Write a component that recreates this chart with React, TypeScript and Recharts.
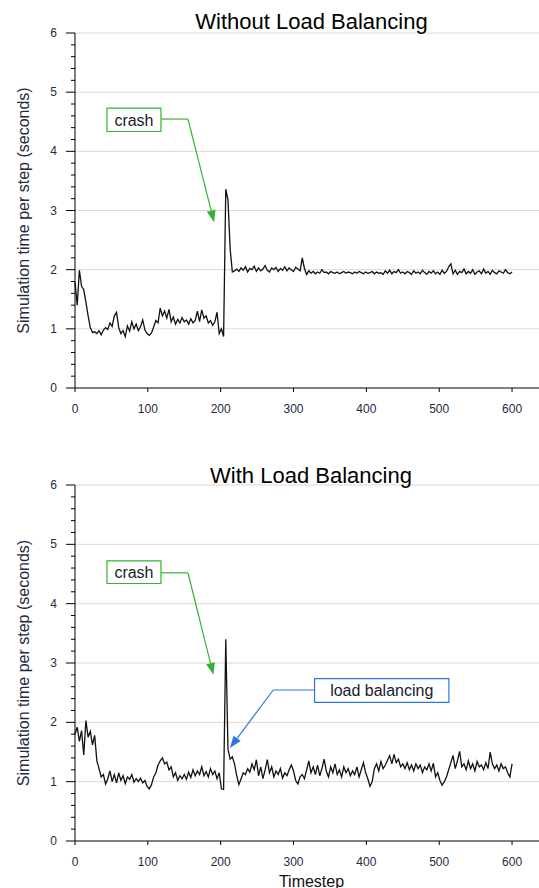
import React from "react";
import {
  Label,
  Line,
  LineChart,
  ReferenceArea,
  ReferenceLine,
  XAxis,
  YAxis,
} from "recharts";

// one sample every 3 timesteps, t = 0 .. 600
const STEP = 3;

const withoutLB = [
  1.79, 1.4, 1.99, 1.72, 1.66, 1.45, 1.22, 1.02, 0.94, 0.95,
  0.92, 0.97, 0.9, 0.98, 1.02, 0.99, 1.1, 1.04, 1.22, 1.28,
  1.02, 0.92, 0.97, 0.87, 1.05, 0.96, 1.12, 1.0, 1.08, 0.97,
  1.04, 1.15, 0.98, 0.92, 0.89, 0.93, 1.03, 1.14, 1.1, 1.35,
  1.22, 1.3, 1.18, 1.33, 1.12, 1.2, 1.08, 1.16, 1.1, 1.19,
  1.12, 1.15, 1.08, 1.17, 1.1, 1.14, 1.3, 1.12, 1.32, 1.18,
  1.22, 1.1, 1.14, 1.06, 1.12, 1.28, 0.92, 1.0, 0.87, 3.36,
  3.18, 2.35, 1.96, 1.98, 2.01, 1.97, 2.03, 1.99, 2.05, 1.96,
  2.02, 2.0, 2.06, 1.97, 2.03, 1.98, 2.01, 2.07, 1.99, 1.96,
  2.03, 2.0, 2.04, 1.97, 2.02, 1.99, 2.05, 1.98, 2.03, 2.0,
  1.97, 2.04, 2.01, 1.98, 2.2, 2.02, 1.92, 1.98, 1.94, 1.97,
  1.93, 1.96, 1.94, 2.0, 1.95, 1.96, 1.93, 1.97, 1.95, 1.94,
  1.96, 1.93, 1.95, 1.97, 1.94, 1.96, 1.95, 1.93, 1.96, 1.94,
  1.97, 1.95, 1.93, 1.96, 1.94, 1.95, 1.97, 1.93, 1.96, 1.94,
  1.95, 1.92, 1.98, 1.94, 1.99, 1.93, 1.97, 1.95, 2.0, 1.94,
  1.96, 1.93, 1.97, 1.95, 1.92, 1.98, 1.94, 1.96, 1.93, 1.99,
  1.95, 1.92, 1.97, 1.94, 1.98, 1.93, 1.96, 1.92, 1.99, 1.94,
  1.97, 2.05, 2.1, 1.93, 1.99, 1.92, 1.97, 1.95, 2.01, 1.93,
  1.97, 1.94, 2.0, 1.92, 1.96, 1.98, 1.93, 2.01, 1.94, 1.97,
  1.92, 1.99, 1.95, 1.93, 1.98, 1.96, 1.94, 2.0, 1.95, 1.93,
  1.96,
];

const withLB = [
  1.8, 1.92, 1.68, 1.86, 1.45, 2.03, 1.75, 1.85, 1.62, 1.78,
  1.35, 1.22, 1.08, 1.12, 0.96, 1.05, 1.18, 1.0, 1.12, 0.98,
  1.15, 1.02, 1.1, 0.97, 1.08, 1.04, 1.12, 0.99, 1.05, 1.0,
  1.06, 0.98, 1.02, 0.92, 0.88, 0.95, 1.08, 1.15, 1.28, 1.35,
  1.4, 1.3, 1.33, 1.2, 1.25, 1.08, 1.15, 1.02, 1.1, 1.05,
  1.12, 1.04, 1.16, 1.07, 1.2, 1.1, 1.18, 1.12, 1.25, 1.1,
  1.17, 1.08, 1.22, 1.12, 1.18, 1.05, 1.15, 0.88, 0.87, 3.4,
  1.55, 1.38, 1.42, 1.3, 1.1, 0.95, 1.05, 1.15, 1.12, 1.22,
  1.16, 1.3, 1.2, 1.37, 1.1, 1.25, 1.05, 1.2, 1.37, 1.15,
  1.25, 1.08, 1.18, 1.12, 1.22, 1.06, 1.15, 1.1, 1.2, 1.28,
  1.18, 1.02, 0.96, 1.08, 1.12, 1.05, 1.2, 1.35, 1.15, 1.25,
  1.12, 1.28, 1.1, 1.22, 1.38, 1.18, 1.08, 1.25, 1.15, 1.3,
  1.12, 1.2, 1.08, 1.25, 1.15, 1.22, 1.1, 1.18, 1.12, 1.25,
  1.08, 1.2, 1.32, 1.15, 1.05, 0.92, 1.0, 1.22, 1.3, 1.18,
  1.34, 1.22, 1.28, 1.36, 1.44, 1.3, 1.46, 1.32, 1.38, 1.25,
  1.3, 1.22, 1.32, 1.2, 1.28, 1.18, 1.3, 1.22, 1.28, 1.15,
  1.25, 1.2, 1.3, 1.18, 1.31, 1.08, 1.15, 1.02, 0.94, 1.0,
  1.08, 1.2, 1.32, 1.44, 1.22, 1.35, 1.51, 1.25, 1.3, 1.2,
  1.35, 1.22, 1.3, 1.18, 1.34, 1.25, 1.28, 1.2, 1.32, 1.22,
  1.5, 1.3, 1.22, 1.28, 1.18, 1.3, 1.22, 1.25, 1.15, 1.08,
  1.3,
];

const xTicks = [0, 100, 200, 300, 400, 500, 600];
const yTicks = [
  0, 0.2, 0.4, 0.6, 0.8, 1, 1.2, 1.4, 1.6, 1.8, 2, 2.2, 2.4, 2.6, 2.8, 3,
  3.2, 3.4, 3.6, 3.8, 4, 4.2, 4.4, 4.6, 4.8, 5, 5.2, 5.4, 5.6, 5.8, 6,
];
const gridValues = [1, 2, 3, 4, 5, 6];

const GREEN = "#2fb52f";
const BLUE = "#2a78d8";
const TEXT = "#1f2a44";
const FONT = "'Liberation Sans', Arial, sans-serif";

const toRows = (vals: number[]) => vals.map((v, i) => ({ t: i * STEP, v }));

const YTick = (props: any) => {
  const { x, y, payload } = props;
  const major = Number.isInteger(payload.value);
  return (
    <g>
      <line x1={x - (major ? 9 : 4)} x2={x} y1={y} y2={y} stroke="#000" />
      {major && (
        <text x={x - 18} y={y} dy={4} textAnchor="end" fontSize={12} fill={TEXT}>
          {payload.value}
        </text>
      )}
    </g>
  );
};

const arrowShape = (color: string) => (props: any) => {
  const { x1, y1, x2, y2 } = props;
  const dx = x2 - x1;
  const dy = y2 - y1;
  const len = Math.hypot(dx, dy) || 1;
  const ux = dx / len;
  const uy = dy / len;
  const head = 12;
  const half = 4.5;
  const bx = x2 - ux * head;
  const by = y2 - uy * head;
  const pts = `${x2},${y2} ${bx - uy * half},${by + ux * half} ${bx + uy * half},${by - ux * half}`;
  return (
    <g>
      <line x1={x1} y1={y1} x2={bx} y2={by} stroke={color} strokeWidth={1.2} />
      <polygon points={pts} fill={color} />
    </g>
  );
};

type Note = {
  text: string;
  color: string;
  box: [number, number, number, number]; // x1, x2, y1, y2 in data units
  corner: { x: number; y: number }[];
  arrow: { x: number; y: number }[];
};

const Panel = ({
  values,
  notes,
  top,
  marginTop,
  plotHeight,
  showTimestep,
}: {
  values: number[];
  notes: Note[];
  top: number;
  marginTop: number;
  plotHeight: number;
  showTimestep?: boolean;
}) => {
  const xAxisHeight = 444 - marginTop - plotHeight;
  return (
    <div style={{ position: "absolute", left: 0, top }}>
      <LineChart
        width={539}
        height={444}
        data={toRows(values)}
        margin={{ top: marginTop, right: 0, bottom: 0, left: 0 }}
      >
        <XAxis
          dataKey="t"
          type="number"
          domain={[0, 637]}
          ticks={xTicks}
          interval={0}
          height={xAxisHeight}
          tickSize={4}
          tickMargin={12}
          stroke="#000"
          tick={{ fontSize: 12, fill: TEXT }}
        >
          {showTimestep && (
            <Label
              content={(p: any) => (
                <text
                  x={311.5}
                  y={(p.viewBox?.y ?? 397) + 45.5}
                  textAnchor="middle"
                  fontSize={16}
                  fill="#111"
                >
                  Timestep
                </text>
              )}
            />
          )}
        </XAxis>
        <YAxis
          domain={[0, 6]}
          ticks={yTicks}
          interval={0}
          width={75}
          tickSize={0}
          tickMargin={0}
          stroke="#000"
          tick={<YTick />}
        >
          <Label
            content={(p: any) => {
              const vb = p.viewBox || { y: marginTop, height: plotHeight };
              const cy = vb.y + vb.height / 2;
              return (
                <text
                  transform={`translate(29 ${cy}) rotate(-90)`}
                  textAnchor="middle"
                  fontSize={16}
                  fill={TEXT}
                >
                  Simulation time per step (seconds)
                </text>
              );
            }}
          />
        </YAxis>
        {gridValues.map((g) => (
          <ReferenceLine key={g} y={g} stroke="#edd3c8" strokeWidth={1} />
        ))}
        <Line
          dataKey="v"
          type="linear"
          stroke="#111"
          strokeWidth={1.3}
          dot={false}
          isAnimationActive={false}
        />
        {notes.map((n) => (
          <ReferenceArea
            key={n.text + "box"}
            x1={n.box[0]}
            x2={n.box[1]}
            y1={n.box[2]}
            y2={n.box[3]}
            fill="#fff"
            fillOpacity={1}
            stroke={n.color}
            strokeWidth={1.2}
            label={{ value: n.text, position: "center", fontSize: 16, fill: "#1a1a2e" }}
          />
        ))}
        {notes.map((n) => (
          <ReferenceLine
            key={n.text + "corner"}
            segment={n.corner}
            stroke={n.color}
            strokeWidth={1.2}
          />
        ))}
        {notes.map((n) => (
          <ReferenceLine
            key={n.text + "arrow"}
            segment={n.arrow}
            shape={arrowShape(n.color)}
          />
        ))}
      </LineChart>
    </div>
  );
};

const topNotes: Note[] = [
  {
    text: "crash",
    color: GREEN,
    box: [43.9, 118, 4.335, 4.73],
    corner: [{ x: 118, y: 4.546 }, { x: 155.1, y: 4.546 }],
    arrow: [{ x: 155.1, y: 4.546 }, { x: 191, y: 2.8 }],
  },
];

const bottomNotes: Note[] = [
  {
    text: "crash",
    color: GREEN,
    box: [43.9, 118, 4.34, 4.72],
    corner: [{ x: 118, y: 4.52 }, { x: 155.1, y: 4.52 }],
    arrow: [{ x: 155.1, y: 4.52 }, { x: 190, y: 2.8 }],
  },
  {
    text: "load balancing",
    color: BLUE,
    box: [328.9, 513.3, 2.338, 2.735],
    corner: [{ x: 328.9, y: 2.545 }, { x: 272.1, y: 2.545 }],
    arrow: [{ x: 272.1, y: 2.545 }, { x: 212.7, y: 1.567 }],
  },
];

export default function App() {
  return (
    <div
      style={{
        position: "fixed",
        left: 0,
        top: 0,
        width: 539,
        height: 888,
        background: "#fff",
        fontFamily: FONT,
        overflow: "hidden",
      }}
    >
      <Panel values={withoutLB} notes={topNotes} top={0} marginTop={33} plotHeight={355} />
      <Panel
        values={withLB}
        notes={bottomNotes}
        top={444}
        marginTop={41}
        plotHeight={356}
        showTimestep
      />
      <svg
        width={539}
        height={888}
        style={{ position: "absolute", left: 0, top: 0, pointerEvents: "none" }}
      >
        <text x={311.5} y={29} textAnchor="middle" fontSize={22} fill="#000">
          Without Load Balancing
        </text>
        <text x={311} y={483} textAnchor="middle" fontSize={22} fill="#000">
          With Load Balancing
        </text>
      </svg>
    </div>
  );
}
